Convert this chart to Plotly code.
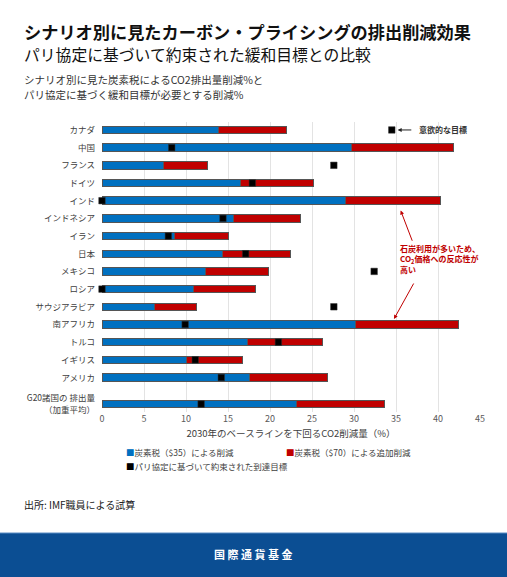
import plotly.graph_objects as go

categories = ["カナダ", "中国", "フランス", "ドイツ", "インド", "インドネシア", "イラン", "日本",
              "メキシコ", "ロシア", "サウジアラビア", "南アフリカ", "トルコ", "イギリス", "アメリカ",
              "G20諸国の 排出量<br>（加重平均）"]
row_pos = [0, 1, 2, 3, 4, 5, 6, 7, 8, 9, 10, 11, 12, 13, 14, 15.5]
tax35 = [13.9, 29.7, 7.3, 16.5, 29.0, 15.6, 8.6, 14.4, 12.3, 10.9, 6.2, 30.2, 17.3, 10.1, 17.5, 23.2]
tax70_extra = [8.1, 12.1, 5.3, 8.7, 11.3, 8.0, 6.5, 8.0, 7.5, 7.4, 5.1, 12.2, 9.0, 6.6, 9.4, 10.4]
targets = [34.5, 8.3, 27.6, 17.9, 0.0, 14.4, 7.9, 17.1, 32.4, 0.0, 27.6, 9.9, 21.0, 11.1, 14.2, 11.8]
x_ticks = [0, 5, 10, 15, 20, 25, 30, 35, 40, 45]

W, H = 507, 577
L, R, T, B = 102, 480, 122, 412
FONT = "Noto Sans CJK JP"
BLUE = "#0070c0"
RED = "#c00000"


def px(x):
    return (x - L) / (R - L)


def py(y):
    return (B - y) / (B - T)


fig = go.Figure()
fig.add_trace(go.Bar(y=row_pos, x=tax35, orientation="h", marker=dict(color=BLUE, line=dict(color="#555555", width=1)),
                     width=0.42, name="炭素税（$35）による削減", showlegend=False))
fig.add_trace(go.Bar(y=row_pos, x=tax70_extra, orientation="h", marker=dict(color=RED, line=dict(color="#555555", width=1)),
                     width=0.42, name="炭素税（$70）による追加削減", showlegend=False))
fig.add_trace(go.Scatter(y=row_pos, x=targets, mode="markers",
                         marker=dict(symbol="square", color="black", size=6.5, line=dict(color="#333333", width=0.5)),
                         cliponaxis=False, name="パリ協定に基づいて約束された到達目標", showlegend=False))

fig.update_layout(
    width=W, height=H,
    margin=dict(l=L, r=W - R, t=T, b=H - B),
    barmode="stack",
    bargap=0.5,
    plot_bgcolor="white", paper_bgcolor="white",
    font=dict(family=FONT, color="#404040", size=9),
    xaxis=dict(range=[0, 45], tickvals=x_ticks, showgrid=True, gridcolor="#e3e3e3", gridwidth=1,
               zeroline=False, showline=False, ticks="", tickfont=dict(size=9, color="#595959"),
               title=dict(text="2030年のベースラインを下回るCO2削減量（%）", font=dict(size=9.5, color="#404040"), standoff=6)),
    yaxis=dict(range=[15.95, -0.45], tickvals=row_pos, ticktext=categories, showgrid=False, zeroline=False,
               ticks="", tickfont=dict(size=8.5, color="#404040"), ticklabelstandoff=6),
)

ann = []
ann.append(dict(text="<b>シナリオ別に見たカーボン・プライシングの排出削減効果</b>", x=px(22), y=py(31.5),
                xref="paper", yref="paper", xanchor="left", yanchor="middle", showarrow=False,
                font=dict(size=17.2, color="#111111")))
ann.append(dict(text="パリ協定に基づいて約束された緩和目標との比較", x=px(22), y=py(54),
                xref="paper", yref="paper", xanchor="left", yanchor="middle", showarrow=False,
                font=dict(size=15.8, color="#111111")))
ann.append(dict(text="シナリオ別に見た炭素税によるCO2排出量削減%と", x=px(22), y=py(80),
                xref="paper", yref="paper", xanchor="left", yanchor="middle", showarrow=False,
                font=dict(size=10.5, color="#333333")))
ann.append(dict(text="パリ協定に基づく緩和目標が必要とする削減%", x=px(22), y=py(95),
                xref="paper", yref="paper", xanchor="left", yanchor="middle", showarrow=False,
                font=dict(size=10.5, color="#333333")))
# legend
ann.append(dict(text=f'<span style="color:{BLUE}">■</span>炭素税（$35）による削減', x=px(124), y=py(452),
                xref="paper", yref="paper", xanchor="left", yanchor="middle", showarrow=False,
                font=dict(size=8.5, color="#404040")))
ann.append(dict(text=f'<span style="color:{RED}">■</span>炭素税（$70）による追加削減', x=px(284), y=py(452),
                xref="paper", yref="paper", xanchor="left", yanchor="middle", showarrow=False,
                font=dict(size=8.5, color="#404040")))
ann.append(dict(text='<span style="color:black">■</span>パリ協定に基づいて約束された到達目標', x=px(124), y=py(466),
                xref="paper", yref="paper", xanchor="left", yanchor="middle", showarrow=False,
                font=dict(size=8.5, color="#404040")))
# source
ann.append(dict(text="出所: IMF職員による試算", x=px(22), y=py(504),
                xref="paper", yref="paper", xanchor="left", yanchor="middle", showarrow=False,
                font=dict(size=10, color="#222222")))
# footer text
ann.append(dict(text="<b>国 際 通 貨 基 金</b>", x=px(253.5), y=py(554),
                xref="paper", yref="paper", xanchor="center", yanchor="middle", showarrow=False,
                font=dict(size=11, color="white")))
# ambitious target callout
ann.append(dict(text="", x=35.2, y=0, ax=37.0, ay=0, xref="x", yref="y", axref="x", ayref="y",
                showarrow=True, arrowhead=2, arrowsize=0.8, arrowwidth=1, arrowcolor="#222222"))
ann.append(dict(text="<b>意欲的な目標</b>", x=37.5, y=0, xref="x", yref="y", xanchor="left", yanchor="middle",
                showarrow=False, font=dict(size=8, color="#333333")))
# coal callout
ann.append(dict(text="<b>石炭利用が多いため、<br>CO<sub>2</sub>価格への反応性が<br>高い</b>", x=35.2, y=7.3,
                xref="x", yref="y", xanchor="left", yanchor="middle", align="left", showarrow=False,
                font=dict(size=8, color=RED)))
ann.append(dict(text="", x=35.56, y=4.56, ax=37.0, ay=6.35, xref="x", yref="y", axref="x", ayref="y",
                showarrow=True, arrowhead=2, arrowsize=0.8, arrowwidth=1, arrowcolor=RED))
ann.append(dict(text="", x=34.76, y=10.69, ax=37.2, ay=8.6, xref="x", yref="y", axref="x", ayref="y",
                showarrow=True, arrowhead=2, arrowsize=0.8, arrowwidth=1, arrowcolor=RED))

fig.update_layout(annotations=ann)
fig.add_shape(type="rect", xref="paper", yref="paper", x0=px(0), x1=px(W), y0=py(H), y1=py(533),
              fillcolor="#0b4e93", line=dict(width=0), layer="below")
fig.add_shape(type="line", xref="paper", yref="paper", x0=px(0), x1=px(W), y0=py(533), y1=py(533),
              line=dict(color="#5a8cc4", width=1))

fig.write_html("out.html", config={"displayModeBar": False},
               post_script="document.body.style.margin='0';document.body.style.overflow='hidden';")
